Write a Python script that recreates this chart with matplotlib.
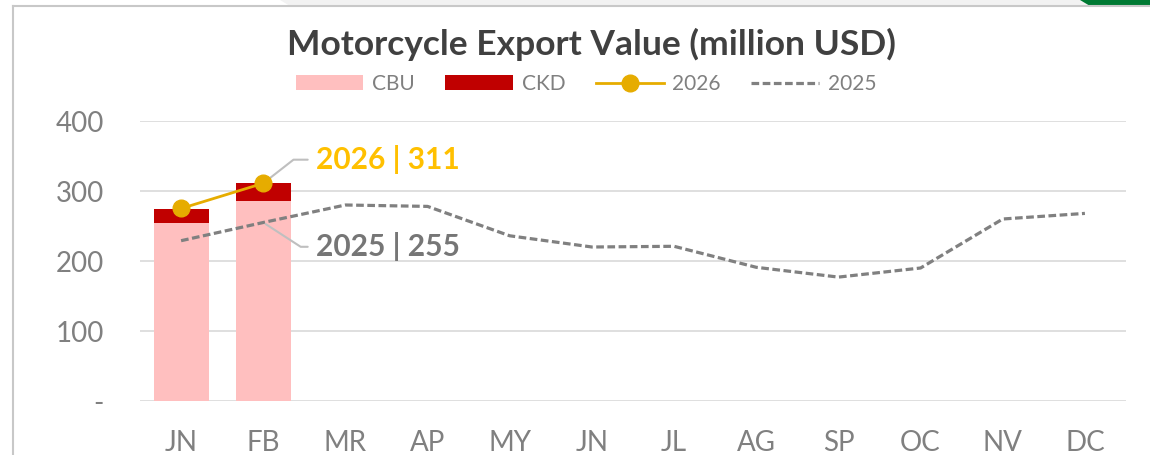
import numpy as np
import matplotlib
matplotlib.use('Agg')
import matplotlib.pyplot as plt
from matplotlib.patches import Polygon
from matplotlib.lines import Line2D

plt.rcParams['font.family'] = ['Lato', 'DejaVu Sans']

months = ['JN', 'FB', 'MR', 'AP', 'MY', 'JN', 'JL', 'AG', 'SP', 'OC', 'NV', 'DC']
cbu = [254, 285]
ckd = [21, 26]
y2026 = [275, 311]
y2025 = [229, 255, 280, 278, 236, 220, 221, 191, 177, 190, 260, 268]

gray_txt = '#808080'

fig = plt.figure(figsize=(11.5, 4.55), dpi=100)

# frame bits from the screenshot
fig.patches.append(Polygon([[280/1150, 1], [290/1150, 1-6/455], [1090/1150, 1-6/455], [1080/1150, 1]],
                           closed=True, transform=fig.transFigure, facecolor='#F2F2F2', edgecolor='none'))
fig.patches.append(Polygon([[1080/1150, 1], [1090/1150, 1-6/455], [1, 1-6/455], [1, 1]],
                           closed=True, transform=fig.transFigure, facecolor='#007A33', edgecolor='none'))
fig.lines.append(Line2D([13/1150, 1], [1-6/455, 1-6/455], transform=fig.transFigure, color='#C8C8C8', lw=1.5))
fig.lines.append(Line2D([13/1150, 13/1150], [0, 1-6/455], transform=fig.transFigure, color='#C8C8C8', lw=1.5))

ax = fig.add_axes([140/1150, (455-401)/455, (1126-140)/1150, (401-121)/455])

x = np.arange(len(months))
n = len(cbu)
b1 = ax.bar(x[:n], cbu, width=0.67, color='#FFBFBF', label='CBU', zorder=2)
b2 = ax.bar(x[:n], ckd, width=0.67, bottom=cbu, color='#C00000', label='CKD', zorder=2)
l1, = ax.plot(x[:n], y2026, color='#E6AC00', lw=2, marker='o', ms=12, label='2026', zorder=4)
l2, = ax.plot(x, y2025, color='#808080', lw=2.3, ls=(0, (2.4, 1.1)), label='2025', zorder=3)

ax.set_xlim(-0.5, len(months) - 0.5)
ax.set_ylim(0, 400)
ax.set_yticks([0, 100, 200, 300, 400])
ax.set_yticklabels(['-', '100', '200', '300', '400'])
ax.set_xticks(x)
ax.set_xticklabels(months)
ax.tick_params(axis='both', length=0, labelsize=20, labelcolor=gray_txt)
ax.tick_params(axis='y', pad=26)
ax.tick_params(axis='x', pad=21)
ax.grid(axis='y', color='#D9D9D9', lw=1.2, zorder=0)
ax.set_axisbelow(True)
for s in ax.spines.values():
    s.set_visible(False)

# data labels with leader lines
ax.annotate(f'2026 | {y2026[-1]}', xy=(x[n-1], y2026[-1]), xytext=(38, 17), textcoords='offset points',
            ha='left', va='center', fontsize=21.5, fontweight='bold', color='#FFC000',
            arrowprops=dict(arrowstyle='-', color='#BFBFBF', lw=1.5, relpos=(0, 0.5), shrinkA=4, shrinkB=2,
                            connectionstyle='angle,angleA=180,angleB=38'))
ax.annotate(f'2025 | {y2025[n-1]}', xy=(x[n-1], y2025[n-1]), xytext=(38, -17.5), textcoords='offset points',
            ha='left', va='center', fontsize=21.5, fontweight='bold', color='#767676',
            arrowprops=dict(arrowstyle='-', color='#BFBFBF', lw=1.5, relpos=(0, 0.5), shrinkA=4, shrinkB=2,
                            connectionstyle='angle,angleA=180,angleB=-33'))

fig.text(591/1150, 1 - 44/455, 'Motorcycle Export Value (million USD)', ha='center', va='center',
         fontsize=25.5, fontweight='bold', color='#404040')

leg = ax.legend([b1, b2, l1, l2], ['CBU', 'CKD', '2026', '2025'], loc='center',
                bbox_to_anchor=(586/1150, (455-84)/455), bbox_transform=fig.transFigure,
                ncol=4, frameon=False, fontsize=15, labelcolor=gray_txt, handlelength=3.25,
                handleheight=0.75, columnspacing=1.45, handletextpad=0.43,
                borderpad=0, borderaxespad=0)

fig.savefig('out.png', dpi=100)
